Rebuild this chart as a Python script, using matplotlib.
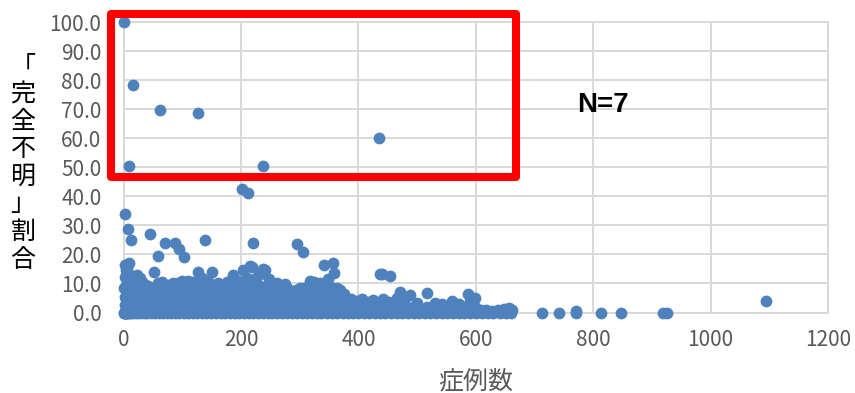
import matplotlib.pyplot as plt
from matplotlib.patches import Rectangle

# facilities with "completely unknown" ratio >= 50 (N=7)
top_cases = [1, 16, 62, 127, 9, 237, 435]
top_ratio = [100.0, 78.3, 69.7, 68.6, 50.4, 50.4, 60.2]

# scattered points between ~12 and ~45
mid_cases = [3, 7, 12, 44, 70, 87, 95, 103, 58, 51, 138, 201, 212, 220, 295, 305,
             436, 453, 9, 5, 341, 356, 358, 1095]
mid_ratio = [33.8, 28.6, 25.0, 27.0, 23.8, 24.0, 22.0, 19.0, 19.3, 14.0, 25.0, 42.5,
             41.0, 23.8, 23.7, 21.0, 13.2, 12.5, 16.9, 15.2, 16.2, 17.0, 13.7, 4.0]

# zero row
zero_cases = [0, 1, 2, 3, 4, 5, 6, 8, 10, 13, 17, 22, 28, 34, 40, 47, 53, 60, 67, 74,
              81, 88, 95, 103, 110, 118, 125, 133, 141, 149, 157, 165, 173, 181, 189,
              197, 205, 213, 221, 229, 237, 245, 253, 261, 270, 278, 286, 295, 303,
              312, 320, 329, 337, 346, 355, 364, 373, 382, 391, 400, 409, 418, 428,
              437, 446, 456, 465, 475, 484, 494, 503, 513, 522, 532, 542, 551, 561,
              571, 580, 590, 600, 610, 620, 630, 641, 652, 660, 712, 741, 770, 813,
              847, 919, 925]

# dense band above zero (case count, ratio)
band = [
    (3, 2.5), (7, 1.8), (12, 3.1), (18, 2.2), (25, 2.8), (31, 1.5), (38, 3.0), (44, 2.1),
    (51, 2.7), (58, 1.9), (64, 3.2), (71, 2.4), (78, 1.6), (85, 2.9), (92, 2.2), (99, 3.1),
    (106, 1.7), (113, 2.6), (121, 2.0), (128, 3.0), (136, 2.3), (143, 1.8), (151, 2.8),
    (158, 2.1), (166, 3.2), (174, 1.9), (182, 2.6), (190, 2.2), (198, 3.0), (206, 1.7),
    (214, 2.5), (222, 2.9), (230, 2.0), (238, 3.1), (246, 2.3), (254, 1.8), (262, 2.7),
    (271, 2.2), (279, 3.0), (287, 1.6), (296, 2.5), (304, 2.9), (313, 2.1), (321, 1.7),
    (330, 2.6), (339, 3.0), (347, 2.0), (356, 2.4), (365, 1.8), (374, 2.7), (383, 2.1),
    (392, 1.6), (401, 2.5), (410, 1.9), (420, 2.8), (429, 1.5), (438, 2.2), (448, 1.8),
    (458, 2.6), (467, 1.4), (477, 2.0), (487, 1.7), (497, 2.3), (507, 1.2), (517, 1.9),
    (527, 1.1), (537, 1.6), (547, 1.0), (557, 1.8), (567, 0.9), (577, 1.5), (588, 1.2),
    (598, 2.0), (608, 0.8), (618, 1.0), (628, 0.6), (638, 0.9), (648, 1.3), (656, 1.5),
    (662, 1.0), (770, 0.6),
    (2, 5.5), (6, 4.8), (10, 6.2), (15, 5.1), (21, 4.4), (27, 5.9), (33, 4.6), (39, 5.4),
    (46, 6.1), (52, 4.5), (59, 5.6), (66, 4.9), (73, 6.0), (80, 4.3), (87, 5.3), (94, 6.2),
    (101, 4.7), (109, 5.5), (116, 6.0), (124, 4.4), (131, 5.2), (139, 5.9), (147, 4.6),
    (155, 5.7), (163, 4.9), (171, 6.1), (179, 4.5), (187, 5.4), (195, 6.0), (203, 4.8),
    (211, 5.6), (219, 4.4), (227, 6.2), (235, 5.0), (243, 5.7), (251, 4.5), (259, 5.9),
    (268, 4.8), (276, 5.5), (284, 4.3), (293, 6.0), (301, 5.1), (310, 4.6), (318, 5.8),
    (327, 4.9), (335, 5.6), (344, 4.4), (352, 6.1), (361, 5.0), (370, 5.5), (379, 4.2),
    (388, 4.8), (397, 3.8), (406, 4.5), (416, 3.6), (425, 4.2), (441, 4.8), (452, 3.5),
    (465, 5.0), (478, 3.9), (487, 5.9), (500, 3.4), (516, 6.6), (530, 3.2), (543, 3.0),
    (559, 3.8), (572, 2.9), (586, 6.5), (590, 4.0), (598, 5.0),
    (1, 8.5), (4, 9.5), (8, 7.6), (13, 8.8), (18, 9.6), (24, 7.4), (30, 8.5), (36, 7.8),
    (41, 9.0), (48, 7.2), (55, 8.6), (61, 9.3), (68, 7.5), (75, 8.4), (78, 9.3), (85, 7.3),
    (92, 8.7), (100, 10.7), (109, 11.0), (104, 7.8), (114, 8.9), (121, 7.4), (128, 9.1),
    (135, 7.9), (142, 8.6), (150, 7.2), (157, 8.9), (167, 9.0), (174, 7.6), (181, 8.5),
    (190, 9.4), (197, 7.7), (205, 8.8), (212, 9.6), (219, 7.5), (226, 8.4), (233, 9.2),
    (241, 7.6), (248, 8.7), (254, 7.6), (262, 8.1), (270, 7.3), (278, 8.5), (286, 7.0),
    (294, 7.8), (301, 8.3), (308, 8.6), (317, 7.4), (325, 8.6), (334, 10.3), (341, 7.6),
    (349, 8.2), (356, 8.6), (363, 8.6), (368, 7.6), (376, 6.5), (385, 4.0),
    (2, 16.2), (4, 14.8), (6, 13.5), (3, 12.3), (8, 11.5), (11, 13.0), (15, 11.8),
    (19, 10.9), (22, 12.8), (27, 12.0), (31, 10.5), (35, 9.8), (58, 10.2), (66, 10.4),
    (84, 10.0), (92, 10.3), (118, 10.6), (126, 13.8), (133, 11.9), (150, 13.8), (143, 10.8),
    (160, 10.2), (176, 10.5), (186, 12.8), (195, 10.9), (203, 14.5), (210, 11.8),
    (218, 15.5), (226, 12.0), (232, 13.2), (240, 14.8), (247, 11.5), (215, 16.0),
    (237, 15.0), (262, 10.2), (275, 9.9), (317, 11.0), (325, 10.5), (348, 11.5),
    (470, 6.9), (440, 13.4),
]
band_cases = [c for c, r in band]
band_ratio = [r for c, r in band]

x_ticks = [0, 200, 400, 600, 800, 1000, 1200]
y_ticks = [0, 10, 20, 30, 40, 50, 60, 70, 80, 90, 100]

blue = '#4F81BD'
grey = '#595959'
grid_c = '#D9D9D9'
jp = ['Noto Sans CJK JP', 'DejaVu Sans']

fig = plt.figure(figsize=(8.55, 3.93), dpi=100)
ax = fig.add_axes([0.1447, 0.2048, 0.8237, 0.7392])

ax.scatter(zero_cases, [0.0 for c in zero_cases], s=72, color=blue, linewidths=0,
           zorder=3, clip_on=False)
ax.scatter(band_cases, band_ratio, s=72, color=blue, linewidths=0, zorder=3, clip_on=False)
ax.scatter(mid_cases, mid_ratio, s=72, color=blue, linewidths=0, zorder=3, clip_on=False)
ax.scatter(top_cases, top_ratio, s=72, color=blue, linewidths=0, zorder=3, clip_on=False)

ax.set_xlim(0, 1200)
ax.set_ylim(0, 100)
ax.set_xticks(x_ticks)
ax.set_yticks(y_ticks)
ax.set_xticklabels([str(t) for t in x_ticks])
ax.set_yticklabels(['%.1f' % t for t in y_ticks])
ax.set_axisbelow(True)
ax.grid(True, color=grid_c, linewidth=1.4)
for s in ax.spines.values():
    s.set_color(grid_c)
    s.set_linewidth(1.4)
ax.tick_params(length=0, labelsize=15, labelcolor=grey)
ax.tick_params(axis='y', pad=16)
ax.tick_params(axis='x', pad=12)
for lab in ax.get_xticklabels() + ax.get_yticklabels():
    lab.set_family(jp)

ax.set_xlabel('症例数', family=jp, fontsize=18, color=grey, labelpad=12)

ylab = '\n'.join(list('「完全不明」割合'))
fig.text(0.027, 0.585, ylab, family=jp, fontsize=18, color='black',
         ha='center', va='center', linespacing=1.08)

# red box around the 7 facilities
ax.add_patch(Rectangle((-21, 46.7), 689, 55.9, fill=False, edgecolor='#FF0000',
                       linewidth=5.8, joinstyle='round', clip_on=False, zorder=5))
ax.text(817, 69.1, 'N=7', family='Liberation Sans', fontweight='bold', fontsize=20,
        ha='center', va='baseline', color='black')

fig.savefig('out.png', dpi=100)
